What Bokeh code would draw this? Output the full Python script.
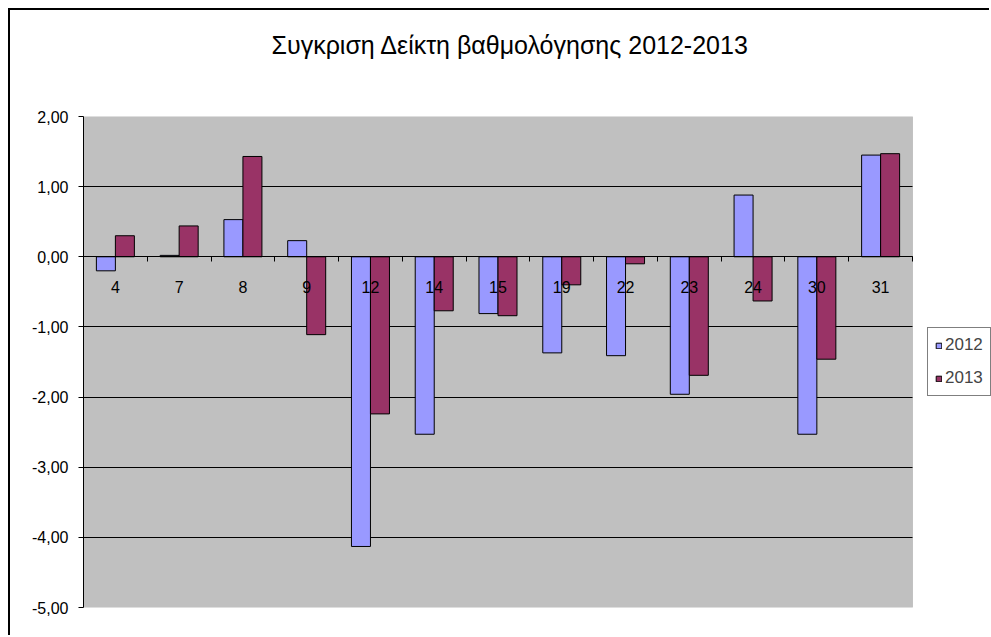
from bokeh.plotting import figure
from bokeh.models import (FixedTicker, LinearAxis, Legend, LegendItem, BoxAnnotation,
                          ColumnDataSource, Range1d, InlineStyleSheet)
from bokeh.transform import dodge
from bokeh.embed import file_html
from bokeh.resources import INLINE

title_text = "Συγκριση Δείκτη βαθμολόγησης 2012-2013"
categories = ["4", "7", "8", "9", "12", "14", "15", "19", "22", "23", "24", "30", "31"]
values_2012 = [-0.20, 0.02, 0.53, 0.23, -4.13, -2.53, -0.81, -1.37, -1.41, -1.96, 0.88, -2.53, 1.45]
values_2013 = [0.30, 0.44, 1.43, -1.11, -2.24, -0.77, -0.84, -0.40, -0.10, -1.69, -0.63, -1.46, 1.47]
series_names = ["2012", "2013"]
series_colors = ["#9999FF", "#993366"]
y_ticks = [-5, -4, -3, -2, -1, 0, 1, 2]
y_tick_labels = ["-5,00", "-4,00", "-3,00", "-2,00", "-1,00", "0,00", "1,00", "2,00"]

FONT = "Liberation Sans"
W, H = 981, 627
BL, BT, BB = 73, 106, 30
PLOT_AREA_PX = 829  # width of the grey plot area

n = len(categories)
positions = [i + 0.5 for i in range(n)]  # category centres on the axis scale
frame_w = W - BL
x_end = n * frame_w / PLOT_AREA_PX

source = ColumnDataSource(data=dict(pos=positions, cat=categories, y2012=values_2012, y2013=values_2013))

p = figure(
    x_range=Range1d(0, x_end),
    y_range=Range1d(y_ticks[0], y_ticks[-1]),
    width=W, height=H,
    output_backend="svg", toolbar_location=None,
    min_border_left=BL, min_border_right=0, min_border_top=BT, min_border_bottom=BB,
    background_fill_color="white", border_fill_color="white",
)
p.stylesheets = [InlineStyleSheet(css=":host { margin-left: 8px; margin-top: 8px; "
                                      "border-left: 2px solid black; border-top: 2px solid black; }")]
p.outline_line_color = None

xax = p.below[0]   # the category axis (default bottom axis)
yax = p.left[0]

p.title.text = title_text
p.title.text_font = FONT
p.title.text_font_size = "25px"
p.title.text_font_style = "normal"
p.title.align = "left"
p.title.offset = 188
p.title.text_color = "black"
p.title.standoff = 10

# invisible spacer between the title and the plot area
spacer = LinearAxis(ticker=FixedTicker(ticks=[1]), major_tick_out=53, major_tick_in=0,
                    major_label_standoff=0, axis_line_color=None,
                    major_tick_line_color=None, minor_tick_line_color=None,
                    major_label_text_color=None, major_label_text_font_size="10px")
p.add_layout(spacer, "above")

# grey plot area
plot_area = BoxAnnotation(left=0, right=n, bottom=y_ticks[0], top=y_ticks[-1],
                          fill_color="#C0C0C0", fill_alpha=1,
                          line_color="#808080", line_width=1, level="image")
p.add_layout(plot_area)

r1 = p.vbar(x=dodge("pos", -0.149), top="y2012", width=0.298, source=source,
            fill_color=series_colors[0], line_color="black", line_width=1)
r2 = p.vbar(x=dodge("pos", 0.149), top="y2013", width=0.298, source=source,
            fill_color=series_colors[1], line_color="black", line_width=1)

# y axis
yax.ticker = FixedTicker(ticks=y_ticks)
yax.major_label_overrides = {t: l for t, l in zip(y_ticks, y_tick_labels)}
yax.major_label_text_font = FONT
yax.major_label_text_font_size = "16px"
yax.major_label_text_color = "black"
yax.major_tick_out = 5
yax.major_tick_in = 0
yax.minor_tick_line_color = None
yax.axis_line_color = "black"
yax.major_tick_line_color = "black"
yax.major_label_standoff = 10

# grid
p.xgrid.grid_line_color = None
p.ygrid.ticker = FixedTicker(ticks=y_ticks)
p.ygrid.grid_line_color = "black"
p.ygrid.grid_line_width = 1
p.ygrid.cross_bounds = (0, n)

# category labels at zero line
xax.ticker = FixedTicker(ticks=positions)
xax.major_label_overrides = {pp: c for pp, c in zip(positions, categories)}
xax.fixed_location = 0
xax.axis_line_color = None
xax.major_tick_line_color = None
xax.minor_tick_line_color = None
xax.major_label_standoff = 18
xax.major_label_text_font = FONT
xax.major_label_text_font_size = "16px"
xax.major_label_text_color = "black"

# tick marks between categories at zero line
tick_axis = LinearAxis(ticker=FixedTicker(ticks=list(range(n + 1))), bounds=(0, n),
                       fixed_location=0, major_tick_out=5, major_tick_in=0,
                       axis_line_color="black", major_tick_line_color="black",
                       minor_tick_line_color=None, major_label_text_color=None)
p.add_layout(tick_axis, "below")

legend = Legend(
    items=[LegendItem(label=series_names[0], renderers=[r1]),
           LegendItem(label=series_names[1], renderers=[r2])],
    location=(844, 211),
    glyph_width=7, glyph_height=7, label_standoff=3,
    label_text_font=FONT, label_text_font_size="17px",
    label_height=20, spacing=13, padding=7, margin=0,
    border_line_color="black", border_line_width=1,
    background_fill_color="white", background_fill_alpha=1,
)
p.add_layout(legend, "center")

open("out.html", "w").write(file_html(p, INLINE))
